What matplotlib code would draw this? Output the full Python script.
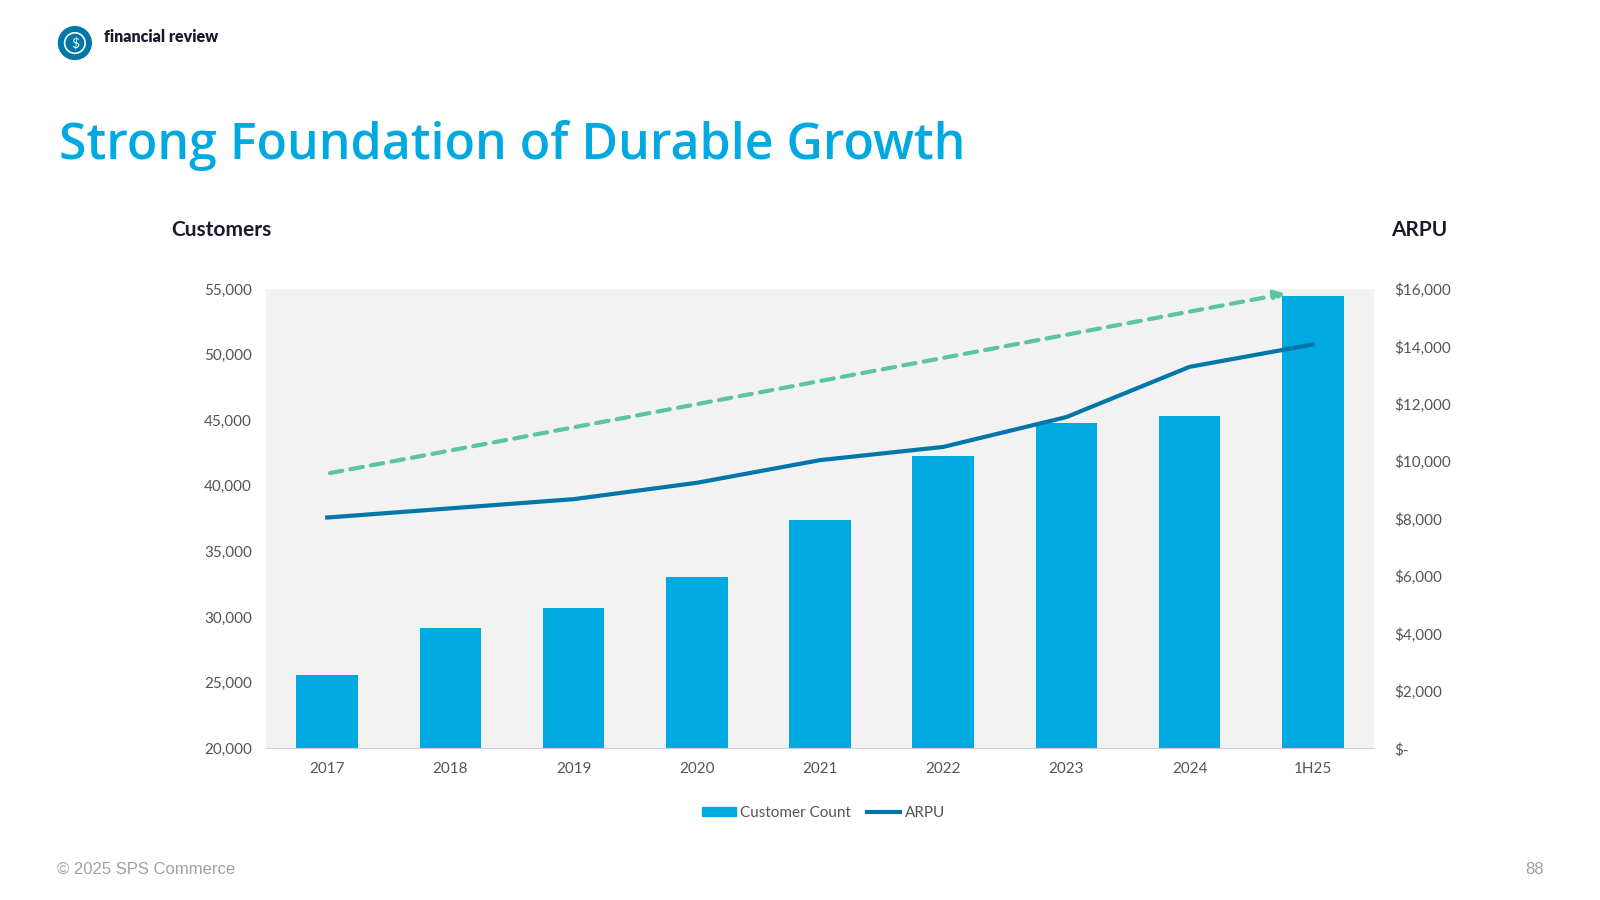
import matplotlib
matplotlib.use("Agg")
import matplotlib.pyplot as plt
from matplotlib.patches import Ellipse
from matplotlib.lines import Line2D
from matplotlib.patches import Patch

categories = ["2017", "2018", "2019", "2020", "2021", "2022", "2023", "2024", "1H25"]
customers = [25600, 29200, 30700, 33050, 37400, 42300, 44800, 45300, 54450]
arpu = [8040, 8360, 8680, 9250, 10040, 10500, 11540, 13290, 14070]
trend_start = 9570
trend_end = 15860
left_ticks = [20000, 25000, 30000, 35000, 40000, 45000, 50000, 55000]
right_ticks = [0, 2000, 4000, 6000, 8000, 10000, 12000, 14000, 16000]

W, H = 1560, 878
fig = plt.figure(figsize=(16, 9), dpi=100)
plt.rcParams['font.family'] = ['Lato', 'DejaVu Sans']

ax = fig.add_axes([259/W, 1-730/H, (1340-259)/W, (730-282)/H])
ax.set_facecolor("#f2f2f2")
x = list(range(len(categories)))
ax.bar(x, [c - 20000 for c in customers], bottom=20000, width=0.5, color="#00a9e0", zorder=2)
ax.set_ylim(20000, 55000)
ax.set_xlim(-0.5, len(categories) - 0.5)
ax.set_yticks(left_ticks)
ax.set_yticklabels([f"{t:,}" for t in left_ticks], fontsize=11, color="#555555")
ax.set_xticks(x)
ax.set_xticklabels(categories, fontsize=11, color="#555555")
ax.tick_params(length=0, pad=10)
for s in ax.spines.values():
    s.set_visible(False)
ax.spines['bottom'].set_visible(True)
ax.spines['bottom'].set_color("#d0d0d0")

ax2 = ax.twinx()
ax2.set_ylim(0, 16000)
ax2.plot(x, arpu, color="#0077a8", lw=3, zorder=4)
ax2.annotate("", xy=(x[-1] - 0.2, trend_end), xytext=(x[0], trend_start),
             arrowprops=dict(arrowstyle="-|>", color="#5cc4a0", lw=3, ls=(0, (3, 2)),
                             mutation_scale=15))
ax2.set_yticks(right_ticks)
ax2.set_yticklabels(["$-"] + [f"${t:,}" for t in right_ticks[1:]], fontsize=11, color="#555555")
ax2.tick_params(length=0, pad=14)
for s in ax2.spines.values():
    s.set_visible(False)

fig.text(167/W, 1-224/H, "Customers", fontsize=15, fontweight="bold", color="#1a1a2e", va="center")
fig.text(1356/W, 1-224/H, "ARPU", fontsize=15, fontweight="bold", color="#1a1a2e", va="center")
fig.text(58/W, 1-142/H, "Strong Foundation of Durable Growth", fontsize=36, color="#00a9e0",
         va="center", fontweight="semibold", family=["Open Sans", "DejaVu Sans"])
fig.text(101/W, 1-36/H, "financial review", fontsize=11.5, fontweight="heavy", color="#1a1a2e", va="center")
fig.patches.append(Ellipse((73/W, 1-42/H), 32/W, 32/H, transform=fig.transFigure, color="#0077a8",
                           zorder=3))
fig.patches.append(Ellipse((73/W, 1-42/H), 20/W, 20/H, transform=fig.transFigure, fill=False,
                           ec="white", lw=1.2, zorder=4))
fig.text(73/W, 1-42/H, "$", fontsize=10, color="white", ha="center", va="center", zorder=5)
fig.text(56/W, 1-848/H, "© 2025 SPS Commerce", fontsize=12, color="#a0a0a0", va="center",
         family=["Liberation Sans", "DejaVu Sans"])
fig.text(1505/W, 1-848/H, "88", fontsize=12, color="#a0a0a0", va="center", ha="right",
         family=["Liberation Sans", "DejaVu Sans"])

handles = [Patch(color="#00a9e0", label="Customer Count"),
           Line2D([0], [0], color="#0077a8", lw=3, label="ARPU")]
fig.legend(handles=handles, loc="center", bbox_to_anchor=(803/W, 1-793/H), ncol=2, frameon=False,
           fontsize=11, handlelength=2.2, handleheight=0.6, columnspacing=1.0, handletextpad=0.3,
           labelcolor="#555555")

fig.savefig("out.png", dpi=100, facecolor="white")
